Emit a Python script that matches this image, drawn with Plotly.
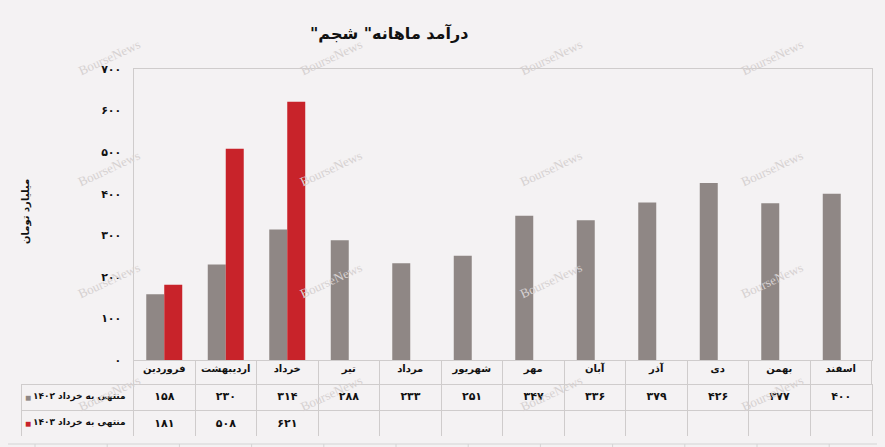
import plotly.graph_objects as go

W, H = 885, 447  # window the page is shown in
OFF = 8           # default page margin of the html body
FW, FH = W - OFF, H - OFF

months = ["فروردین", "اردیبهشت", "خرداد", "تیر", "مرداد", "شهریور",
          "مهر", "آبان", "آذر", "دی", "بهمن", "اسفند"]
vals_1402 = [158, 230, 314, 288, 233, 251, 347, 336, 379, 426, 377, 400]
vals_1403 = [181, 508, 621]
name_1402 = "منتهی به خرداد ۱۴۰۲"
name_1403 = "منتهی به خرداد ۱۴۰۳"
y_ticks = [0, 100, 200, 300, 400, 500, 600, 700]

GRAY = "#8f8785"
RED = "#c8232a"
BG = "#f4f2f3"
LINE = "#cfcccc"
FONT = "DejaVu Sans"

FA = str.maketrans("0123456789", "۰۱۲۳۴۵۶۷۸۹")


def fa(n):
    return str(n).translate(FA)


def nb(s):
    # keep table labels on one line
    return s.replace(" ", "\u00a0")


# screen pixel layout -> plot fractions
L_SCR, R_SCR = 21, 872
X0, Y_TOP, Y_ZERO = 133.5, 69, 360
ML, MR = L_SCR - OFF, FW - (R_SCR - OFF)
PW = FW - ML - MR


def px(x):
    return (x - OFF - ML) / PW


def py(y):
    return (FH - (y - OFF)) / FH


fig = go.Figure()
fig.add_trace(go.Bar(x=months, y=vals_1402, name=name_1402,
                     marker=dict(color=GRAY, line_width=0)))
fig.add_trace(go.Bar(x=months[:len(vals_1403)], y=vals_1403, name=name_1403,
                     marker=dict(color=RED, line_width=0)))

# data table under the chart
header_vals = [nb(name_1402)] + [fa(v) for v in vals_1402]
cell_vals = [[nb(name_1403)]] + [[fa(v)] for v in vals_1403] + \
    [[""] for _ in range(len(months) - len(vals_1403))]
tfont = dict(family=FONT, size=[9] + [11] * len(months), color="#111111", weight="bold")
fig.add_trace(go.Table(
    domain=dict(x=[0, 1], y=[py(437), py(384)]),
    columnwidth=[X0 - L_SCR] + [61.5] * len(months),
    header=dict(values=header_vals, height=26.5, fill_color=BG,
                line=dict(color=LINE, width=1),
                align=["right"] + ["center"] * len(months), font=tfont),
    cells=dict(values=cell_vals, height=26.5, fill_color=BG,
               line=dict(color=LINE, width=1),
               align=["right"] + ["center"] * len(months), font=tfont),
))

annotations = [
    dict(text="درآمد ماهانه\" شجم\"\u200f", xref="paper", yref="paper",
         x=px(389), y=py(33), xanchor="center", yanchor="middle", showarrow=False,
         font=dict(family=FONT, size=16, color="#111111", weight="bold")),
    dict(text="میلیارد تومان", textangle=-90, xref="paper", yref="paper",
         x=px(26), y=py(212), xanchor="center", yanchor="middle", showarrow=False,
         font=dict(family=FONT, size=10, color="#111111", weight="bold")),
]
# legend keys in the table
for key_y, key_c in [(397, GRAY), (423, RED)]:
    annotations.append(dict(text="■", xref="paper", yref="paper",
                            x=px(28), y=py(key_y), xanchor="center", yanchor="middle",
                            showarrow=False, font=dict(size=10, color=key_c)))
# watermarks
for wy in [57, 169, 281, 393]:
    for wx in [109, 331, 551, 772]:
        annotations.append(dict(
            text="BourseNews", textangle=-25, xref="paper", yref="paper",
            x=px(wx), y=py(wy), xanchor="center", yanchor="middle", showarrow=False,
            font=dict(family="Liberation Serif", size=13, color="#d6d1d1")))

# spreadsheet cell borders peeking in at the bottom
shapes = [dict(type="line", xref="paper", yref="paper",
               x0=px(OFF), x1=px(W), y0=py(444), y1=py(444),
               line=dict(color="#d4d4d4", width=1))]
for i in range(12):
    xx = 35 + 72.2 * i
    shapes.append(dict(type="line", xref="paper", yref="paper",
                       x0=px(xx), x1=px(xx), y0=py(444), y1=py(H),
                       line=dict(color="#d4d4d4", width=1)))

fig.update_layout(
    width=FW, height=FH,
    margin=dict(l=ML, r=MR, t=0, b=0, autoexpand=False),
    paper_bgcolor=BG, plot_bgcolor=BG,
    barmode="group", bargap=0.415, bargroupgap=0,
    showlegend=False,
    xaxis=dict(domain=[px(X0), px(871.5)], showline=True, linecolor=LINE,
               mirror=True, ticks="outside", tickson="boundaries", ticklen=24,
               tickcolor=LINE, ticklabelstandoff=-1, showgrid=False, automargin=False,
               tickfont=dict(family=FONT, size=10, color="#111111", weight="bold")),
    yaxis=dict(domain=[py(Y_ZERO), py(Y_TOP)], range=[0, 700], showline=True,
               linecolor=LINE, mirror=True, showgrid=False, zeroline=False,
               tickvals=y_ticks, ticktext=[fa(v) for v in y_ticks], automargin=False,
               ticks="", ticklabelstandoff=9,
               tickfont=dict(family=FONT, size=11, color="#111111", weight="bold")),
    annotations=annotations,
    shapes=shapes,
)

# page margin in the same tint as the chart
fig.write_html("out.html", post_script="document.body.style.background='%s';" % BG)
